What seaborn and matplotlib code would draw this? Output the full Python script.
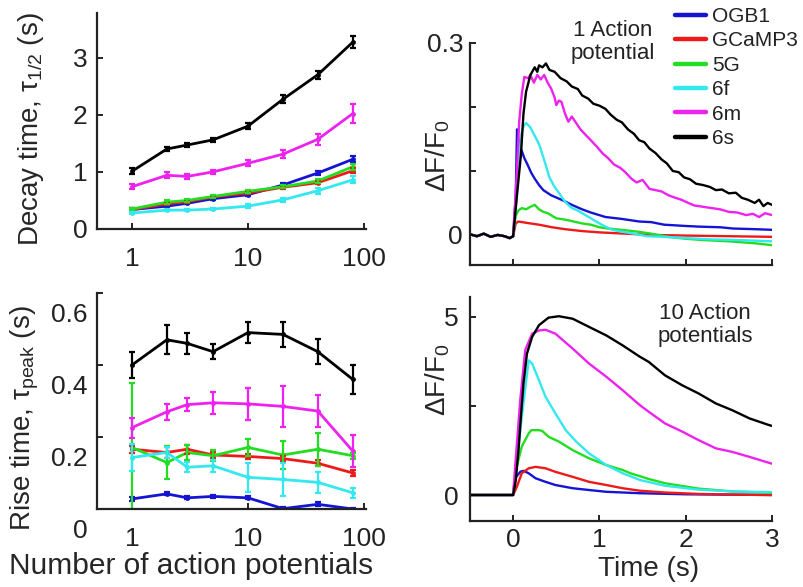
import numpy as np
import pandas as pd
import seaborn as sns
import matplotlib
matplotlib.use("Agg")
import matplotlib.pyplot as plt
from matplotlib.lines import Line2D
from matplotlib.transforms import ScaledTranslation

# ---------------- data ----------------
GENES = ["OGB1", "GCaMP3", "5G", "6f", "6m", "6s"]
COLORS = ["#1414d2", "#ee1a1a", "#22dd22", "#33e8ee", "#ee22ee", "#000000"]
N_AP = [1, 2, 3, 5, 10, 20, 40, 80]

# decay time tau_1/2 (s)
decay_ogb1 = [0.34, 0.40, 0.45, 0.53, 0.60, 0.77, 0.98, 1.22]
decay_gcamp3 = [0.34, 0.44, 0.48, 0.56, 0.63, 0.73, 0.81, 1.02]
decay_5g = [0.35, 0.47, 0.50, 0.57, 0.66, 0.74, 0.84, 1.09]
decay_6f = [0.28, 0.33, 0.33, 0.35, 0.40, 0.51, 0.67, 0.86]
decay_6m = [0.74, 0.94, 0.92, 1.00, 1.15, 1.31, 1.57, 2.02]
decay_6s = [1.01, 1.40, 1.47, 1.56, 1.80, 2.27, 2.70, 3.27]
decay_err_ogb1 = [0.02, 0.02, 0.02, 0.02, 0.02, 0.03, 0.04, 0.05]
decay_err_gcamp3 = [0.02, 0.02, 0.02, 0.02, 0.02, 0.03, 0.03, 0.04]
decay_err_5g = [0.02, 0.03, 0.03, 0.02, 0.03, 0.03, 0.04, 0.05]
decay_err_6f = [0.02, 0.02, 0.02, 0.02, 0.03, 0.03, 0.05, 0.06]
decay_err_6m = [0.04, 0.05, 0.05, 0.04, 0.05, 0.07, 0.10, 0.16]
decay_err_6s = [0.05, 0.04, 0.04, 0.04, 0.05, 0.07, 0.07, 0.10]

# rise time tau_peak (s)
rise_ogb1 = [0.028, 0.042, 0.031, 0.035, 0.031, 0.001, 0.013, 0.0]
rise_gcamp3 = [0.166, 0.157, 0.166, 0.150, 0.146, 0.140, 0.127, 0.100]
rise_5g = [0.171, 0.129, 0.157, 0.148, 0.171, 0.150, 0.166, 0.148]
rise_6f = [0.143, 0.157, 0.116, 0.120, 0.088, 0.082, 0.074, 0.045]
rise_6m = [0.226, 0.270, 0.290, 0.295, 0.292, 0.285, 0.272, 0.161]
rise_6s = [0.400, 0.470, 0.460, 0.437, 0.490, 0.485, 0.437, 0.360]
rise_err_ogb1 = [0.005, 0.004, 0.004, 0.004, 0.004, 0.004, 0.006, 0.004]
rise_err_gcamp3 = [0.010, 0.015, 0.012, 0.008, 0.008, 0.008, 0.008, 0.008]
rise_err_5g = [0.180, 0.045, 0.020, 0.015, 0.023, 0.040, 0.046, 0.008]
rise_err_6f = [0.037, 0.014, 0.014, 0.016, 0.040, 0.045, 0.030, 0.014]
rise_err_6m = [0.028, 0.023, 0.018, 0.030, 0.045, 0.057, 0.044, 0.044]
rise_err_6s = [0.035, 0.040, 0.030, 0.020, 0.030, 0.035, 0.035, 0.040]

# 1 AP traces (time s, dF/F0)
base_t = [-0.5, -0.42, -0.34, -0.26, -0.18, -0.1, -0.04, 0.0]
base_1ap = [0.001, -0.002, 0.002, -0.003, 0.0, -0.002, -0.005, -0.002]
ap1_t_ogb1 = [0.03, 0.045, 0.06, 0.09, 0.13, 0.17, 0.21, 0.25, 0.3, 0.35, 0.44, 0.56, 0.68, 0.8, 0.9, 1.07,
              1.26, 1.46, 1.6, 1.75, 2.0, 2.15, 2.4, 2.55, 2.8, 3.0]
ap1_v_ogb1 = [0.06, 0.165, 0.15, 0.135, 0.12, 0.109, 0.097, 0.088, 0.078, 0.07, 0.062, 0.055, 0.047, 0.04,
              0.035, 0.028, 0.025, 0.021, 0.02, 0.016, 0.014, 0.013, 0.012, 0.01, 0.009, 0.008]
ap1_t_gcamp3 = [0.03, 0.06, 0.15, 0.3, 0.45, 0.6, 0.8, 1.0, 1.3, 1.6, 2.0, 2.5, 3.0]
ap1_v_gcamp3 = [0.018, 0.021, 0.019, 0.016, 0.012, 0.009, 0.006, 0.004, 0.002, 0.0, -0.001, -0.002, -0.003]
ap1_t_5g = [0.03, 0.06, 0.1, 0.15, 0.2, 0.25, 0.3, 0.35, 0.4, 0.45, 0.5, 0.6, 0.7, 0.8, 0.9, 1.0, 1.1,
            1.25, 1.45, 1.6, 1.8, 2.0, 2.2, 2.5, 2.8, 3.0]
ap1_v_5g = [0.03, 0.038, 0.042, 0.04, 0.044, 0.047, 0.04, 0.036, 0.034, 0.03, 0.026, 0.024, 0.021, 0.018,
            0.016, 0.012, 0.01, 0.008, 0.005, 0.002, -0.003, -0.006, -0.008, -0.01, -0.013, -0.016]
ap1_t_6f = [0.04, 0.09, 0.12, 0.15, 0.2, 0.25, 0.3, 0.36, 0.42, 0.48, 0.53, 0.6, 0.68, 0.75, 0.8, 0.9, 1.0,
            1.07, 1.15, 1.26, 1.4, 1.55, 1.75, 2.0, 2.3, 2.6, 3.0]
ap1_v_6f = [0.06, 0.155, 0.17, 0.175, 0.168, 0.155, 0.142, 0.117, 0.09, 0.075, 0.066, 0.052, 0.042, 0.038,
            0.034, 0.026, 0.018, 0.013, 0.008, 0.005, 0.002, -0.002, -0.003, -0.005, -0.007, -0.008, -0.01]
ap1_t_6m = [0.04, 0.07, 0.1, 0.13, 0.17, 0.2, 0.24, 0.28, 0.32, 0.36, 0.4, 0.44, 0.48, 0.5, 0.53, 0.56, 0.6,
            0.64, 0.68, 0.72, 0.78, 0.85, 0.9, 0.97, 1.04, 1.1, 1.17, 1.24, 1.3, 1.37, 1.43, 1.5, 1.58, 1.65,
            1.72, 1.8, 1.88, 1.95, 2.03, 2.1, 2.2, 2.3, 2.4, 2.5, 2.6, 2.7, 2.78, 2.85, 2.92, 3.0]
ap1_v_6m = [0.09, 0.177, 0.22, 0.247, 0.245, 0.25, 0.238, 0.25, 0.243, 0.25, 0.238, 0.229, 0.215, 0.203,
            0.21, 0.208, 0.19, 0.177, 0.185, 0.177, 0.165, 0.155, 0.148, 0.138, 0.127, 0.12, 0.11, 0.105,
            0.098, 0.088, 0.082, 0.086, 0.072, 0.07, 0.068, 0.062, 0.058, 0.055, 0.05, 0.046, 0.044, 0.042,
            0.04, 0.036, 0.035, 0.031, 0.033, 0.028, 0.034, 0.031]
ap1_t_6s = [0.05, 0.09, 0.12, 0.15, 0.2, 0.25, 0.28, 0.3, 0.34, 0.38, 0.42, 0.48, 0.55, 0.62, 0.68, 0.75,
            0.8, 0.87, 0.93, 1.0, 1.07, 1.13, 1.2, 1.26, 1.33, 1.4, 1.46, 1.52, 1.58, 1.65, 1.72, 1.78, 1.85,
            1.92, 1.98, 2.05, 2.12, 2.2, 2.28, 2.35, 2.42, 2.5, 2.58, 2.65, 2.72, 2.8, 2.85, 2.9, 2.95, 3.0]
ap1_v_6s = [0.07, 0.125, 0.19, 0.224, 0.25, 0.262, 0.255, 0.265, 0.262, 0.268, 0.258, 0.255, 0.245, 0.24,
            0.232, 0.228, 0.218, 0.213, 0.205, 0.202, 0.197, 0.188, 0.18, 0.176, 0.165, 0.158, 0.148, 0.145,
            0.135, 0.128, 0.118, 0.112, 0.1, 0.098, 0.09, 0.087, 0.08, 0.078, 0.075, 0.07, 0.071, 0.065,
            0.066, 0.058, 0.055, 0.05, 0.055, 0.045, 0.05, 0.047]

# 10 AP traces
base_10ap = [0.0, 0.0, 0.0, 0.0, 0.0, 0.0, 0.0, 0.0]
ap10_t_ogb1 = [0.023, 0.082, 0.12, 0.18, 0.26, 0.375, 0.49, 0.69, 0.88, 1.08, 1.47, 2.0, 3.0]
ap10_v_ogb1 = [0.47, 0.65, 0.68, 0.61, 0.47, 0.37, 0.28, 0.19, 0.14, 0.09, 0.05, 0.02, 0.0]
ap10_t_gcamp3 = [0.043, 0.1, 0.18, 0.26, 0.375, 0.49, 0.69, 0.88, 1.08, 1.27, 1.47, 1.76, 2.15, 2.6, 3.0]
ap10_v_gcamp3 = [0.23, 0.61, 0.75, 0.79, 0.75, 0.65, 0.51, 0.37, 0.28, 0.19, 0.12, 0.07, 0.03, 0.01, 0.0]
ap10_t_5g = [0.023, 0.1, 0.18, 0.21, 0.3, 0.336, 0.414, 0.53, 0.69, 0.88, 1.08, 1.27, 1.37, 1.47, 1.57,
             1.76, 2.15, 2.54, 3.0]
ap10_v_5g = [0.61, 1.36, 1.73, 1.82, 1.82, 1.8, 1.63, 1.5, 1.26, 1.03, 0.84, 0.7, 0.6, 0.53, 0.45, 0.33,
             0.18, 0.1, 0.06]
ap10_t_6f = [0.023, 0.1, 0.18, 0.22, 0.3, 0.375, 0.49, 0.61, 0.73, 0.88, 1.08, 1.27, 1.47, 1.76, 2.15,
             2.54, 3.0]
ap10_v_6f = [0.42, 2.19, 3.78, 3.69, 3.22, 2.76, 2.29, 1.82, 1.5, 1.17, 0.84, 0.61, 0.42, 0.26, 0.15,
             0.1, 0.08]
ap10_t_6m = [0.023, 0.082, 0.14, 0.22, 0.3, 0.375, 0.49, 0.69, 0.88, 1.08, 1.27, 1.47, 1.57, 1.76, 1.96,
             2.15, 2.35, 2.54, 2.74, 2.97, 3.0]
ap10_v_6m = [0.79, 2.66, 4.07, 4.53, 4.62, 4.64, 4.53, 4.11, 3.69, 3.32, 2.94, 2.52, 2.34, 2.01, 1.78,
             1.54, 1.31, 1.21, 1.07, 0.9, 0.88]
ap10_t_6s = [0.03, 0.062, 0.09, 0.12, 0.16, 0.22, 0.3, 0.41, 0.53, 0.69, 0.88, 1.08, 1.27, 1.47, 1.57,
             1.76, 1.96, 2.15, 2.35, 2.54, 2.74, 2.97, 3.0]
ap10_v_6s = [0.4, 1.26, 2.2, 3.13, 3.97, 4.44, 4.77, 4.98, 5.02, 4.95, 4.72, 4.48, 4.2, 3.88, 3.74, 3.36,
             3.08, 2.85, 2.57, 2.38, 2.15, 1.96, 1.94]

decay_means = [decay_ogb1, decay_gcamp3, decay_5g, decay_6f, decay_6m, decay_6s]
decay_errs = [decay_err_ogb1, decay_err_gcamp3, decay_err_5g, decay_err_6f, decay_err_6m, decay_err_6s]
rise_means = [rise_ogb1, rise_gcamp3, rise_5g, rise_6f, rise_6m, rise_6s]
rise_errs = [rise_err_ogb1, rise_err_gcamp3, rise_err_5g, rise_err_6f, rise_err_6m, rise_err_6s]
ap1_ts = [ap1_t_ogb1, ap1_t_gcamp3, ap1_t_5g, ap1_t_6f, ap1_t_6m, ap1_t_6s]
ap1_vs = [ap1_v_ogb1, ap1_v_gcamp3, ap1_v_5g, ap1_v_6f, ap1_v_6m, ap1_v_6s]
ap10_ts = [ap10_t_ogb1, ap10_t_gcamp3, ap10_t_5g, ap10_t_6f, ap10_t_6m, ap10_t_6s]
ap10_vs = [ap10_v_ogb1, ap10_v_gcamp3, ap10_v_5g, ap10_v_6f, ap10_v_6m, ap10_v_6s]

# ---------------- style ----------------
sns.set_theme(style="ticks")
plt.rcParams["font.family"] = ["Liberation Sans", "DejaVu Sans"]
plt.rcParams["axes.linewidth"] = 1.6
plt.rcParams["xtick.direction"] = "in"
plt.rcParams["ytick.direction"] = "in"
plt.rcParams["xtick.major.width"] = 1.4
plt.rcParams["ytick.major.width"] = 1.4
plt.rcParams["xtick.major.size"] = 4
plt.rcParams["ytick.major.size"] = 4
plt.rcParams["axes.edgecolor"] = "#222222"
plt.rcParams["text.color"] = "#222222"
plt.rcParams["xtick.color"] = "#222222"
plt.rcParams["ytick.color"] = "#222222"

palette = dict(zip(GENES, COLORS))
W, H = 804, 587
fig = plt.figure(figsize=(W / 100, H / 100), dpi=100)


def px_axes(l, t, r, b):
    return fig.add_axes([l / W, 1 - b / H, (r - l) / W, (b - t) / H])


ax_decay = px_axes(97, 13, 366, 229)
ax_rise = px_axes(97, 293, 366, 509)
ax_ap1 = px_axes(470, 43, 772, 265)
ax_ap10 = px_axes(470, 297, 772, 521)

TICK_FS = 19
LABEL_FS = 20


def summary_panel(ax, means, errs):
    rows = []
    for g, m in zip(GENES, means):
        for n, v in zip(N_AP, m):
            rows.append({"n": n, "v": v, "gene": g})
    df = pd.DataFrame(rows)
    sns.lineplot(data=df, x="n", y="v", hue="gene", hue_order=GENES, palette=palette,
                 estimator=None, sort=False, legend=False, linewidth=2.0, ax=ax,
                 marker="o", markersize=3.5, markeredgewidth=0)
    for g, m, e in zip(GENES, means, errs):
        ax.errorbar(N_AP, m, yerr=e, fmt="none", ecolor=palette[g], elinewidth=1.6,
                    capsize=2.5, capthick=1.6)
    ax.set_xscale("log")
    ax.set_xlim(0.5, 104)
    ax.set_xticks([1, 10, 100])
    ax.set_xticklabels(["1", "10", "100"])
    ax.minorticks_off()
    sns.despine(ax=ax)
    ax.tick_params(axis="both", labelsize=TICK_FS)
    ax.tick_params(axis="x", pad=13)


summary_panel(ax_decay, decay_means, decay_errs)
ax_decay.set_ylim(0, 3.78)
ax_decay.set_yticks([0, 1, 2, 3])
ax_decay.set_yticklabels(["0", "1", "2", "3"])
ax_decay.tick_params(axis="y", pad=7)
ax_decay.set_xlabel("")
ax_decay.set_ylabel("Decay time, τ$_{\\mathregular{1/2}}$ (s)", fontsize=LABEL_FS)
ax_decay.yaxis.set_label_coords(-0.19, 0.46)

summary_panel(ax_rise, rise_means, rise_errs)
ax_rise.set_ylim(0, 0.595)
ax_rise.set_yticks([0, 0.2, 0.4, 0.6])
ax_rise.set_yticklabels(["0", "0.2", "0.4", "0.6"])
ax_rise.tick_params(axis="y", pad=7)
off = ScaledTranslation(0, -0.19, fig.dpi_scale_trans)
for lab in ax_rise.get_yticklabels():
    lab.set_transform(lab.get_transform() + off)
ax_rise.set_xlabel("Number of action potentials", fontsize=21.5)
ax_rise.xaxis.set_label_coords(0.35, -0.2)
ax_rise.set_ylabel("Rise time, τ$_{\\mathregular{peak}}$ (s)", fontsize=LABEL_FS)
ax_rise.yaxis.set_label_coords(-0.21, 0.42)


def trace_panel(ax, base_v, ts, vs):
    rows = []
    for g, t, v in zip(GENES, ts, vs):
        tt = base_t + t
        vv = base_v + v
        for a, b in zip(tt, vv):
            rows.append({"t": a, "v": b, "gene": g})
    df = pd.DataFrame(rows)
    sns.lineplot(data=df, x="t", y="v", hue="gene", hue_order=GENES, palette=palette,
                 estimator=None, sort=False, legend=False, linewidth=1.7, ax=ax)
    ax.set_xlim(-0.5, 3.0)
    ax.set_xticks([0, 1, 2, 3])
    sns.despine(ax=ax)
    ax.tick_params(axis="both", labelsize=TICK_FS)
    ax.set_xlabel("")


trace_panel(ax_ap1, base_1ap, ap1_ts, ap1_vs)
ax_ap1.set_ylim(-0.047, 0.3)
ax_ap1.set_yticks([0, 0.1, 0.2, 0.3])
ax_ap1.set_yticklabels(["0", "", "", "0.3"])
ax_ap1.set_xticklabels(["", "", "", ""])
ax_ap1.tick_params(axis="y", pad=5)
ax_ap1.set_ylabel("ΔF/F$_{\\mathregular{0}}$", fontsize=LABEL_FS)
ax_ap1.yaxis.set_label_coords(-0.06, 0.49)

trace_panel(ax_ap10, base_10ap, ap10_ts, ap10_vs)
ax_ap10.set_ylim(-0.73, 5.56)
ax_ap10.set_yticks([0, 2.5, 5])
ax_ap10.set_yticklabels(["0", "", "5"])
ax_ap10.set_xticklabels(["0", "1", "2", "3"])
ax_ap10.tick_params(axis="y", pad=8)
ax_ap10.tick_params(axis="x", pad=5)
ax_ap10.set_xlabel("Time (s)", fontsize=LABEL_FS)
ax_ap10.xaxis.set_label_coords(0.59, -0.158)
ax_ap10.set_ylabel("ΔF/F$_{\\mathregular{0}}$", fontsize=LABEL_FS)
ax_ap10.yaxis.set_label_coords(-0.06, 0.63)

fig.text(613 / W, 1 - 42 / H, "1 Action\npotential", ha="center", va="center",
         fontsize=16, linespacing=1.1)
fig.text(705 / W, 1 - 325 / H, "10 Action\npotentials", ha="center", va="center",
         fontsize=16, linespacing=1.1)

handles = [Line2D([0], [0], color=c, lw=3.2) for c in COLORS]
fig.legend(handles, GENES, loc="upper left", bbox_to_anchor=(675 / W, 1 - 7 / H),
           frameon=False, fontsize=15, handlelength=1.5, handletextpad=0.3,
           labelspacing=0.26, borderpad=0, borderaxespad=0)

fig.savefig("out.png", dpi=100)
